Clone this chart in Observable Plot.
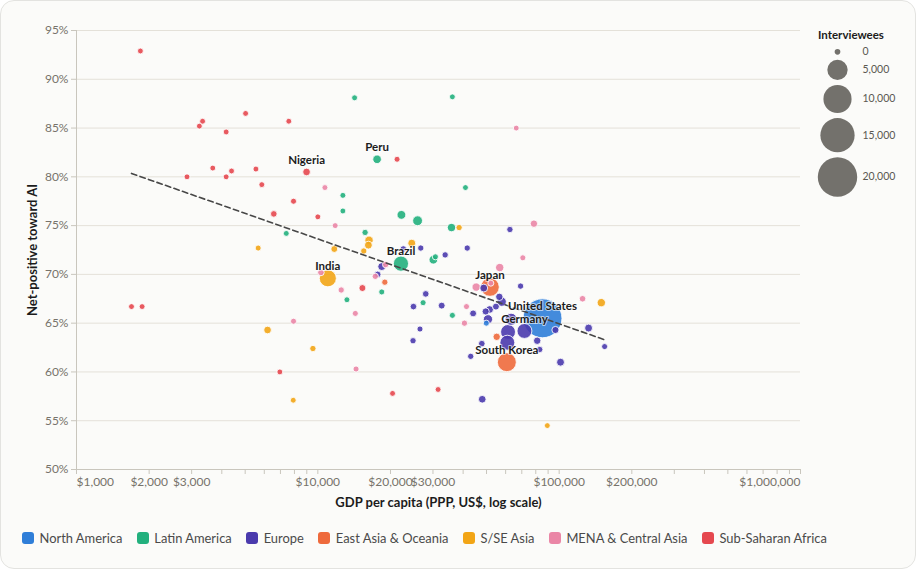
<!DOCTYPE html>
<html>
<head>
<meta charset="utf-8">
<script src="https://cdn.jsdelivr.net/npm/d3@7"></script>
<script src="https://cdn.jsdelivr.net/npm/@observablehq/plot@0.6"></script>
<style>
html, body { margin: 0; padding: 0; background: #ffffff; }
body { width: 916px; height: 572px; position: relative; overflow: hidden; font-family: Lato, "Open Sans", sans-serif; }
#card { position: absolute; left: 0; top: 0; width: 914px; height: 567px; border: 1px solid #e3e3e0; border-radius: 14px; background: #fbfbf9; }
#chart { position: absolute; left: 0; top: 0; }
#sizeLegend { position: absolute; left: 818px; top: 28px; }
#sizeLegend .t { font-weight: 700; font-size: 11.5px; color: #1c1c1c; line-height: 14px; }
#legend { position: absolute; left: 22px; top: 530px; display: flex; align-items: center; font-size: 12.9px; color: #4a4a4a; white-space: nowrap; }
#legend .item { display: flex; align-items: center; margin-right: 14.5px; }
#legend .sw { width: 12px; height: 12px; border-radius: 3px; margin-right: 5.5px; }
</style>
</head>
<body>
<div id="card"></div>
<div id="chart"></div>
<div id="sizeLegend"><div class="t">Interviewees</div></div>
<div id="legend"></div>
<script>
const regions = ["North America", "Latin America", "Europe", "East Asia & Oceania", "S/SE Asia", "MENA & Central Asia", "Sub-Saharan Africa"];
const regionColors = ["#2f7ed8", "#22b07d", "#4a3aad", "#ee6a3c", "#f2a516", "#ea86a6", "#e5484f"];

// [GDP per capita (PPP, US$), net-positive %, interviewees, label]
const northAmerica = [
  [85300, 65.5, 19500, "United States"],
  [49900, 65.0, 60]
];
const latinAmerica = [
  [14200, 88.1, 40], [36100, 88.2, 30], [17600, 81.8, 550, "Peru"], [12700, 78.1, 40],
  [40900, 78.9, 30], [12700, 76.5, 30], [22200, 76.1, 600], [25900, 75.5, 850],
  [35800, 74.8, 500], [15700, 74.3, 100], [7400, 74.2, 30], [30700, 71.8, 60],
  [30100, 71.5, 550], [22100, 71.1, 2600, "Brazil"], [18400, 68.2, 60], [13200, 67.4, 40],
  [27300, 67.1, 60], [36100, 65.8, 60]
];
const europe = [
  [62500, 74.6, 100], [22600, 72.6, 150], [26700, 72.7, 100], [41600, 72.7, 100],
  [33700, 72.0, 100], [18400, 70.8, 400], [17700, 70.0, 150], [28000, 68.0, 150],
  [24900, 66.7, 150], [32600, 66.8, 200], [44000, 66.0, 200], [26500, 64.4, 60],
  [24800, 63.2, 100], [47800, 62.9, 150], [43000, 61.6, 100], [48000, 57.2, 350],
  [69200, 68.8, 100], [48700, 68.6, 400], [56500, 67.7, 300], [57800, 67.2, 700],
  [49600, 66.2, 250], [51500, 66.4, 350], [54700, 66.7, 200], [50700, 65.4, 700],
  [63200, 65.4, 1500], [61400, 64.1, 2500], [61000, 63.0, 2500], [71800, 64.2, 2500, "Germany"],
  [81100, 63.2, 300], [83100, 62.3, 100], [96500, 64.3, 250], [132400, 64.5, 400],
  [154300, 62.6, 60], [101300, 61.0, 400]
];
const eastAsia = [
  [51700, 68.7, 4100, "Japan"], [60700, 61.0, 4300, "South Korea"], [18950, 69.2, 100], [55100, 63.6, 300]
];
const southAsia = [
  [5660, 72.7, 50], [6190, 64.3, 350], [9540, 62.4, 100], [7910, 57.1, 30],
  [11000, 69.6, 3400, "India"], [11700, 72.6, 200], [15500, 72.4, 100], [16300, 73.5, 500],
  [16200, 73.0, 400], [24500, 73.2, 420], [38500, 74.8, 100], [149500, 67.1, 500],
  [89300, 54.5, 30]
];
const mena = [
  [66400, 85.0, 30], [10700, 78.9, 40], [11800, 75.0, 40], [78600, 75.2, 300],
  [70700, 71.7, 60], [56700, 70.7, 500], [45300, 68.7, 500], [52100, 69.1, 60],
  [41300, 66.7, 60], [40500, 65.0, 100], [14300, 66.0, 60], [14400, 60.3, 60],
  [7930, 65.2, 60], [10300, 70.2, 150], [19100, 71.0, 100], [17300, 69.8, 100],
  [12500, 68.4, 100], [125000, 67.5, 150]
];
const subSaharan = [
  [1840, 92.9, 30], [3230, 85.2, 30], [3330, 85.7, 30], [4170, 84.6, 30],
  [5020, 86.5, 30], [7580, 85.7, 30], [2870, 80.0, 30], [3670, 80.9, 30],
  [4170, 80.0, 30], [4390, 80.6, 30], [5540, 80.8, 30], [5860, 79.2, 30],
  [8980, 80.5, 350, "Nigeria"], [7930, 77.5, 60], [6570, 76.2, 150], [10000, 75.9, 30],
  [1690, 66.7, 30], [1870, 66.7, 30], [6960, 60.0, 30], [15300, 68.6, 220],
  [20400, 57.8, 30], [31500, 58.2, 30], [21300, 81.8, 50]
];

// trend line endpoints
const trendGdp = [1690, 154300];
const trendPct = [80.35, 63.3];

const yTicks = [50, 55, 60, 65, 70, 75, 80, 85, 90, 95];
const xLabelTicks = [2000, 3000, 10000, 20000, 30000, 100000, 200000];
const xFirstTick = [1000];
const xLastTick = [1000000];
const xMinorTicks = [1000,2000,3000,4000,5000,6000,7000,8000,9000,
  10000,20000,30000,40000,50000,60000,70000,80000,90000,
  100000,200000,300000,400000,500000,600000,700000,800000,900000,1000000];
const sizeLegendValues = [0, 5000, 10000, 15000, 20000];

const groups = [[northAmerica, regions[0]], [latinAmerica, regions[1]], [europe, regions[2]],
  [eastAsia, regions[3]], [southAsia, regions[4]], [mena, regions[5]], [subSaharan, regions[6]]];
const all = [];
for (const [arr, region] of groups) for (const [gdp, pct, n, name] of arr) all.push({gdp, pct, n, name, region});
const labeled = all.filter(d => d.name);
const trend = trendGdp.map((g, i) => ({gdp: g, pct: trendPct[i]}));

const rOffset = 421, rMaxV = 20000, rMaxPx = 19.7;
const rOpts = {type: "sqrt", transform: v => v + rOffset, domain: [0, rMaxV + rOffset], range: [0, rMaxPx]};
const fmt = d3.format("$,");
const axisGrey = "#c9c6bd", textGrey = "#77736b";

const chart = Plot.plot({
  width: 916, height: 520,
  marginLeft: 76, marginRight: 116, marginTop: 30, marginBottom: 51,
  style: {fontFamily: "Lato, 'Open Sans', sans-serif", fontSize: "12px", background: "transparent", color: textGrey},
  x: {type: "log", domain: [1000, 1000000]},
  y: {domain: [50, 95]},
  r: rOpts,
  color: {domain: regions, range: regionColors},
  marks: [
    Plot.gridY(yTicks, {stroke: "#e4e1d9", strokeOpacity: 1}),
    Plot.ruleY([50], {stroke: axisGrey}),
    Plot.ruleX([1000], {stroke: axisGrey}),
    Plot.axisY(yTicks, {tickFormat: d => d + "%", tickSize: 5, tickPadding: 3, stroke: axisGrey, fill: textGrey, label: null}),
    Plot.axisX(xMinorTicks, {tickFormat: () => "", tickSize: 5, stroke: axisGrey, label: null}),
    Plot.axisX(xLabelTicks, {tickFormat: fmt, tickSize: 0, tickPadding: 8, fill: textGrey, label: null}),
    Plot.axisX(xFirstTick, {tickFormat: fmt, tickSize: 0, tickPadding: 8, fill: textGrey, textAnchor: "start", label: null}),
    Plot.axisX(xLastTick, {tickFormat: fmt, tickSize: 0, tickPadding: 8, fill: textGrey, textAnchor: "end", label: null}),
    Plot.dot(all, {x: "gdp", y: "pct", r: "n", fill: "region", fillOpacity: 0.9, stroke: "#ffffff", strokeWidth: 1, strokeOpacity: 0.85}),
    Plot.line(trend, {x: "gdp", y: "pct", stroke: "#474747", strokeWidth: 1.6, strokeDasharray: "5.5,3.5"}),
    Plot.text(labeled, {x: "gdp", y: "pct", text: "name", dy: -12, fontWeight: 700, fontSize: 11.5, fill: "#1c1c1c", stroke: "#ffffff", strokeOpacity: 0.6, strokeWidth: 2}),
    Plot.text(["Net-positive toward AI"], {frameAnchor: "left", dx: -44, rotate: -90, fontWeight: 700, fontSize: 13, fill: "#1c1c1c", lineAnchor: "middle", textAnchor: "middle"}),
    Plot.text(["GDP per capita (PPP, US$, log scale)"], {frameAnchor: "bottom", dy: 33, fontWeight: 700, fontSize: 13, fill: "#1c1c1c", lineAnchor: "middle", textAnchor: "middle"})
  ]
});
document.getElementById("chart").appendChild(chart);

// size legend (same r scale)
const rOf = v => rMaxPx * Math.sqrt((v + rOffset) / (rMaxV + rOffset));
let cy = 0, prevR = 0;
const legendRows = sizeLegendValues.map((v, i) => {
  const r = rOf(v);
  cy = i === 0 ? 6.5 + r : cy + prevR + 5 + r;
  prevR = r;
  return {v, cy};
});
const sizeLegend = Plot.plot({
  width: 92, height: 165, margin: 0,
  style: {fontFamily: "Lato, 'Open Sans', sans-serif", background: "transparent", overflow: "visible"},
  y: {type: "identity", axis: null},
  x: {axis: null},
  r: rOpts,
  marks: [
    Plot.dot(legendRows, {y: "cy", r: "v", frameAnchor: "left", dx: 19, fill: "#73716c"}),
    Plot.text(legendRows, {y: "cy", text: d => d3.format(",")(d.v), frameAnchor: "left", dx: 44, textAnchor: "start", fontSize: 10.5, fill: "#5a5851"})
  ]
});
document.getElementById("sizeLegend").appendChild(sizeLegend);

// color legend
const legend = document.getElementById("legend");
regions.forEach((name, i) => {
  const item = document.createElement("div");
  item.className = "item";
  const sw = document.createElement("div");
  sw.className = "sw";
  sw.style.background = regionColors[i];
  const label = document.createElement("span");
  label.textContent = name;
  item.appendChild(sw);
  item.appendChild(label);
  legend.appendChild(item);
});
</script>
</body>
</html>
